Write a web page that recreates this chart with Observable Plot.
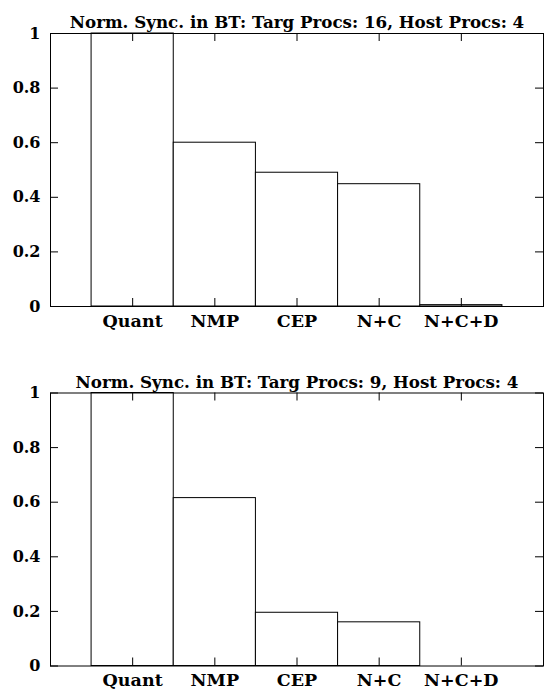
<!DOCTYPE html>
<html><head><meta charset="utf-8">
<script src="https://cdn.jsdelivr.net/npm/d3@7"></script>
<script src="https://cdn.jsdelivr.net/npm/@observablehq/plot@0.6"></script>
<style>body{margin:0;background:#fff} svg{display:block}</style>
</head><body><div id="c"></div>
<script>
const categories = ["Quant", "NMP", "CEP", "N+C", "N+C+D"];
const positions = [1, 2, 3, 4, 5];
const sync16 = [1, 0.6, 0.49, 0.448, 0.005];
const sync9 = [1, 0.615, 0.195, 0.16, 0];
const titles = [
  "Norm. Sync. in BT: Targ Procs: 16, Host Procs: 4",
  "Norm. Sync. in BT: Targ Procs: 9, Host Procs: 4"
];
const yTicks = [0, 0.2, 0.4, 0.6, 0.8, 1];
const xDomain = [0, 6];

function panel(values, title, mt, mb) {
  const data = categories.map((c, i) => ({c, x: positions[i], v: values[i]}));
  const W = 548, H = 349, ml = 50, mr = 5;
  const innerW = W - ml - mr, innerH = H - mt - mb;
  const fmt = d3.format("~g");
  return Plot.plot({
    width: W, height: H, marginLeft: ml, marginRight: mr, marginTop: mt, marginBottom: mb,
    style: {fontFamily: "'DejaVu Serif', serif", fontWeight: "bold", fontSize: "16px", background: "white", color: "black", overflow: "visible"},
    x: {domain: xDomain, axis: null},
    y: {domain: [0, 1], axis: null},
    marks: [
      Plot.rect(data, {x1: d => d.x - 0.5, x2: d => d.x + 0.5, y1: 0, y2: "v", fill: "white", stroke: "black", strokeWidth: 1}),
      Plot.tickX(positions, {x: d => d, insetTop: innerH - 8, stroke: "black"}),
      Plot.tickX(positions, {x: d => d, insetBottom: innerH - 8, stroke: "black"}),
      Plot.tickY(yTicks, {y: d => d, insetRight: innerW - 8, stroke: "black"}),
      Plot.tickY(yTicks, {y: d => d, insetLeft: innerW - 8, stroke: "black"}),
      Plot.frame({stroke: "black", strokeWidth: 1}),
      Plot.text(data, {x: "x", text: "c", frameAnchor: "bottom", dy: 20, fill: "black", fontSize: 17.5}),
      Plot.text(yTicks, {y: d => d, text: d => fmt(d), frameAnchor: "left", textAnchor: "end", dx: -10, fill: "black"}),
      Plot.text([title], {frameAnchor: "top", dy: -17, fill: "black", fontSize: 16.7})
    ]
  });
}
const c = document.getElementById("c");
c.appendChild(panel(sync16, titles[0], 33, 43));
c.appendChild(panel(sync9, titles[1], 43.5, 32.5));
</script></body></html>
